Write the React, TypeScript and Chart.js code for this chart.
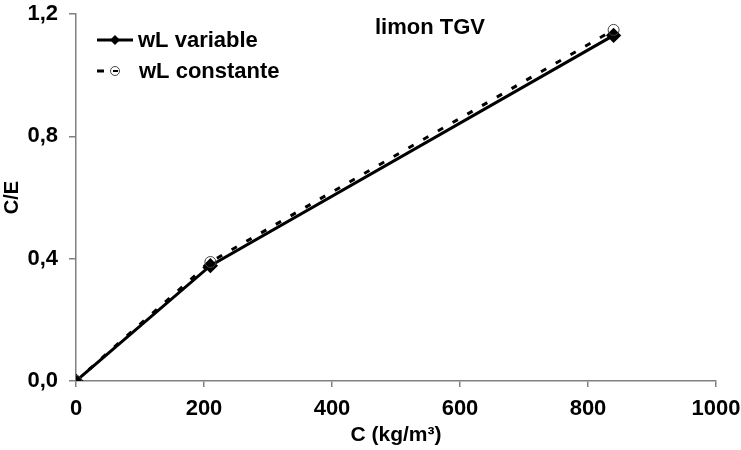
import React, { useEffect, useRef } from "react";
import { Chart, registerables } from "chart.js";

Chart.register(...registerables);

const concentrations = [0, 210, 840];
const wlVariable = [0, 0.377, 1.13];
const wlConstante = [0, 0.389, 1.148];
const xTicks = [0, 200, 400, 600, 800, 1000];
const yTicks = [0, 0.4, 0.8, 1.2];
const seriesNames = ["wL variable", "wL constante"];
const chartTitle = "limon TGV";

const FONT = "'Liberation Sans', Arial, sans-serif";

const overlayPlugin = {
  id: "overlay",
  afterDraw(chart: any) {
    const ctx = chart.ctx;
    ctx.save();
    // title
    ctx.fillStyle = "#000";
    ctx.font = `bold 22px ${FONT}`;
    ctx.textAlign = "center";
    ctx.textBaseline = "middle";
    ctx.fillText(chartTitle, 430, 28);
    // legend item 1
    ctx.strokeStyle = "#000";
    ctx.lineWidth = 3;
    ctx.setLineDash([]);
    ctx.beginPath();
    ctx.moveTo(97, 40);
    ctx.lineTo(133, 40);
    ctx.stroke();
    ctx.fillStyle = "#000";
    ctx.beginPath();
    ctx.moveTo(115, 35);
    ctx.lineTo(120, 40);
    ctx.lineTo(115, 45);
    ctx.lineTo(110, 40);
    ctx.closePath();
    ctx.fill();
    ctx.font = `bold 22px ${FONT}`;
    ctx.textAlign = "left";
    ctx.fillText(seriesNames[0], 138, 41);
    // legend item 2
    ctx.beginPath();
    ctx.moveTo(97, 71);
    ctx.lineTo(104, 71);
    ctx.stroke();
    ctx.lineWidth = 1;
    ctx.strokeStyle = "#444";
    ctx.fillStyle = "#fff";
    ctx.beginPath();
    ctx.arc(115, 71, 4.5, 0, Math.PI * 2);
    ctx.fill();
    ctx.stroke();
    ctx.lineWidth = 2;
    ctx.strokeStyle = "#000";
    ctx.beginPath();
    ctx.moveTo(113, 71);
    ctx.lineTo(118, 71);
    ctx.stroke();
    ctx.fillStyle = "#000";
    ctx.fillText(seriesNames[1], 139, 72);
    ctx.restore();
  },
};

export default function App() {
  const canvasRef = useRef<HTMLCanvasElement | null>(null);

  useEffect(() => {
    document.body.style.margin = "0";
    const canvas = canvasRef.current;
    if (!canvas) return;
    const tickFont = { family: FONT, size: 22, weight: "bold" as const };
    const chart = new Chart(canvas, {
      type: "line",
      data: {
        datasets: [
          {
            label: seriesNames[0],
            data: concentrations.map((c, i) => ({ x: c, y: wlVariable[i] })),
            borderColor: "#000",
            borderWidth: 3,
            pointStyle: "rectRot",
            pointRadius: 5.5,
            pointBackgroundColor: "#000",
            pointBorderColor: "#000",
            tension: 0,
            order: 2,
          },
          {
            label: seriesNames[1],
            data: concentrations.map((c, i) => ({ x: c, y: wlConstante[i] })),
            borderColor: "#000",
            borderWidth: 3,
            borderDash: [6, 11],
            pointStyle: "circle",
            pointRadius: 5.5,
            pointBackgroundColor: "rgba(255,255,255,0)",
            pointBorderColor: "#444",
            pointBorderWidth: 1,
            tension: 0,
            order: 1,
          },
        ],
      },
      options: {
        animation: false,
        responsive: false,
        layout: { padding: { left: 0, right: 25, top: 14, bottom: 0 } },
        plugins: { legend: { display: false }, tooltip: { enabled: false } },
        scales: {
          x: {
            type: "linear",
            min: 0,
            max: 1000,
            afterBuildTicks: (s: any) => {
              s.ticks = xTicks.map((v) => ({ value: v }));
            },
            afterFit: (s: any) => {
              s.height = 69;
              s.paddingLeft = 0;
              s.paddingRight = 0;
            },
            ticks: {
              font: tickFont,
              color: "#000",
              padding: 9,
              maxRotation: 0,
              callback: (v: any) => String(v),
            },
            grid: { drawOnChartArea: false, drawTicks: true, tickLength: 6, color: "#808080", lineWidth: 1.5 },
            border: { color: "#808080", width: 1.5 },
            title: {
              display: true,
              text: "C (kg/m³)",
              font: { family: FONT, size: 21, weight: "bold" },
              color: "#000",
              padding: { top: 0, bottom: 2 },
            },
          },
          y: {
            type: "linear",
            min: 0,
            max: 1.2,
            afterBuildTicks: (s: any) => {
              s.ticks = yTicks.map((v) => ({ value: v }));
            },
            afterFit: (s: any) => {
              s.width = 76;
              s.paddingTop = 0;
              s.paddingBottom = 0;
            },
            ticks: {
              font: tickFont,
              color: "#000",
              padding: 11,
              callback: (v: any) => Number(v).toFixed(1).replace(".", ","),
            },
            grid: { drawOnChartArea: false, drawTicks: true, tickLength: 7, color: "#808080", lineWidth: 1.5 },
            border: { color: "#808080", width: 1.5 },
            title: {
              display: true,
              text: "C/E",
              font: { family: FONT, size: 20, weight: "bold" },
              color: "#000",
              padding: { top: 0, bottom: 0 },
            },
          },
        },
      },
      plugins: [overlayPlugin],
    });
    return () => chart.destroy();
  }, []);

  return (
    <div style={{ width: 741, height: 450, background: "#fff" }}>
      <canvas ref={canvasRef} width={741} height={450} style={{ display: "block" }} />
    </div>
  );
}
